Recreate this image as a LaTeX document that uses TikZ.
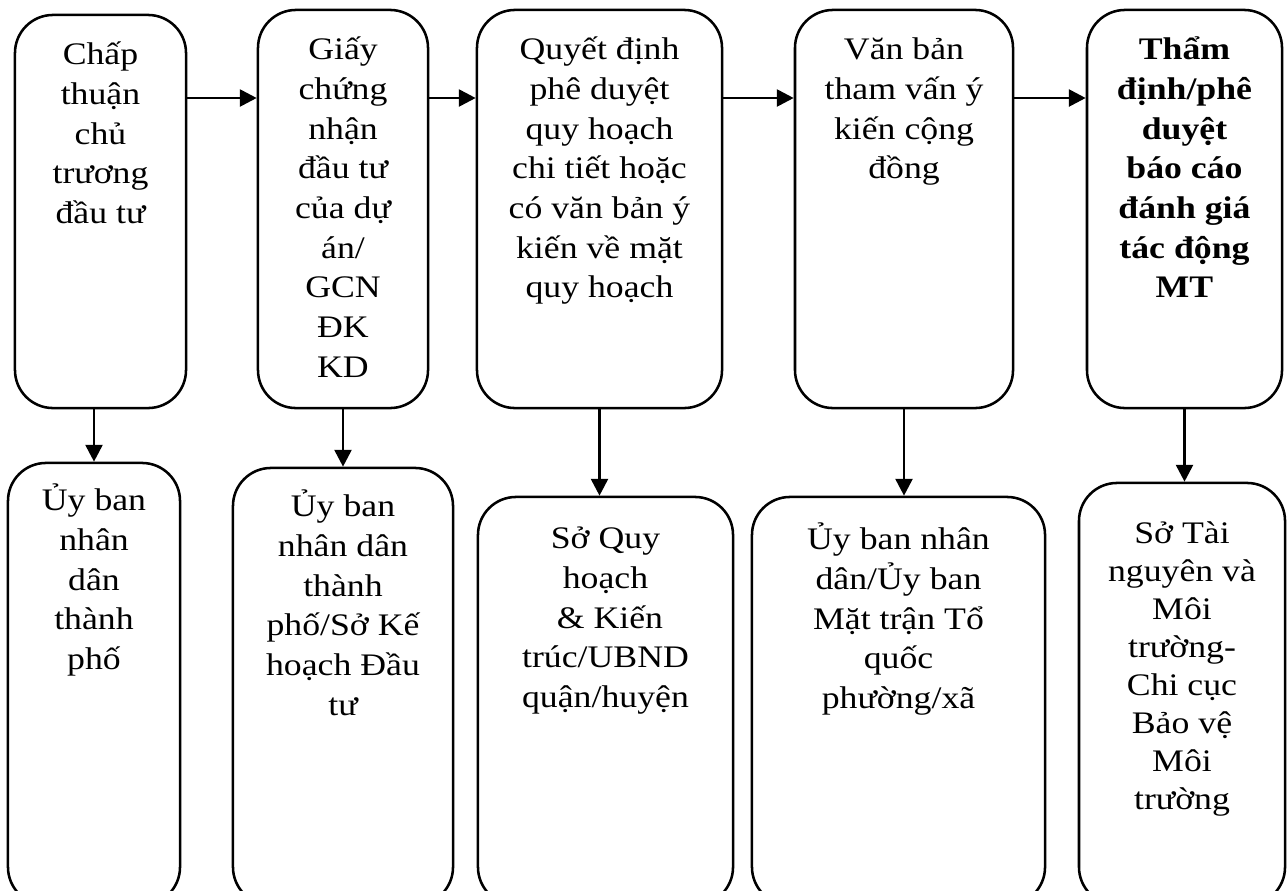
\documentclass[tikz,border=0pt]{standalone}
\usepackage{fontspec}
\setmainfont{Liberation Serif}[FakeStretch=1.14]
\usetikzlibrary{positioning,arrows.meta}
\newcommand{\st}{\rule{0pt}{0.75cm}}
\newcommand{\fs}{\fontsize{22.3pt}{28.2pt}\selectfont}

\begin{document}
\begin{tikzpicture}[x=0.025cm, y=-0.025cm,
  box/.style={draw, line width=1.8pt, rounded corners=0.95cm, inner sep=0pt},
  txt/.style={align=center, inner sep=0pt, font=\fs},
  arr/.style={->, line width=2pt},
  >={Triangle[length=0.42cm, width=0.42cm]}]
\useasboundingbox (0,0) rectangle (1287,890);
\clip (0,0) rectangle (1287,890);
\coordinate (lvl) at (0,98);
% top row
\node[box, minimum width=4.275cm, minimum height=9.825cm] (t1) at (100.5,211.5) {};
\node[box, minimum width=4.25cm, minimum height=9.95cm] (t2) at (343,209) {};
\node[box, minimum width=6.125cm, minimum height=9.95cm] (t3) at (599.5,209) {};
\node[box, minimum width=5.45cm, minimum height=9.95cm] (t4) at (904,209) {};
\node[box, minimum width=4.875cm, minimum height=9.95cm] (t5) at (1184.5,209) {};
\node[txt, below=0.525cm of t1.north] (t1txt) {\st Chấp\\thuận\\chủ\\trương\\đầu tư};
\node[txt, below=0.525cm of t2.north] (t2txt) {\st Giấy\\chứng\\nhận\\đầu tư\\của dự\\án/\\GCN\\ĐK\\KD};
\node[txt, below=0.525cm of t3.north] (t3txt) {\st Quyết định\\phê duyệt\\quy hoạch\\chi tiết hoặc\\có văn bản ý\\kiến về mặt\\quy hoạch};
\node[txt, below=0.525cm of t4.north] (t4txt) {\st Văn bản\\tham vấn ý\\kiến cộng\\đồng};
\node[txt, font=\fs\bfseries, below=0.525cm of t5.north] (t5txt) {\st Thẩm\\định/phê\\duyệt\\báo cáo\\đánh giá\\tác động\\MT};
% bottom row
\node[box, minimum width=4.3cm, minimum height=11.05cm] (b1) at (94,684) {};
\node[box, minimum width=5.5cm, minimum height=10.925cm] (b2) at (343,686.5) {};
\node[box, minimum width=6.375cm, minimum height=10.2cm] (b3) at (605.5,701) {};
\node[box, minimum width=7.325cm, minimum height=10.2cm] (b4) at (898.5,701) {};
\node[box, minimum width=5.15cm, minimum height=10.55cm] (b5) at (1182,694) {};
\node[txt, below=0.475cm of b1.north] (b1txt) {\st Ủy ban\\nhân\\dân\\thành\\phố};
\node[txt, below=0.5cm of b2.north] (b2txt) {\st Ủy ban\\nhân dân\\thành\\phố/Sở Kế\\hoạch Đầu\\tư};
\node[txt, below=0.575cm of b3.north] (b3txt) {\st Sở Quy\\hoạch\\\ \& Kiến\\trúc/UBND\\quận/huyện};
\node[txt, below=0.6cm of b4.north] (b4txt) {\st Ủy ban nhân\\dân/Ủy ban\\Mặt trận Tổ\\quốc\\phường/xã};
\node[txt, font=\fontsize{22.3pt}{27pt}\selectfont, below=0.8cm of b5.north] (b5txt) {\st Sở Tài\\nguyên và\\Môi\\trường-\\Chi cục\\Bảo vệ\\Môi\\trường};
% arrows
\foreach \a/\b in {t1/t2,t2/t3,t3/t4,t4/t5}{
\draw[arr] (\a.east |- lvl) -- (\b.west |- lvl);}
\draw[arr] (t1.south -| b1.north) -- (b1.north);
\foreach \n in {2,...,5}{
\draw[arr] (t\n.south) -- (t\n.south |- b\n.north);}
\end{tikzpicture}
\end{document}
